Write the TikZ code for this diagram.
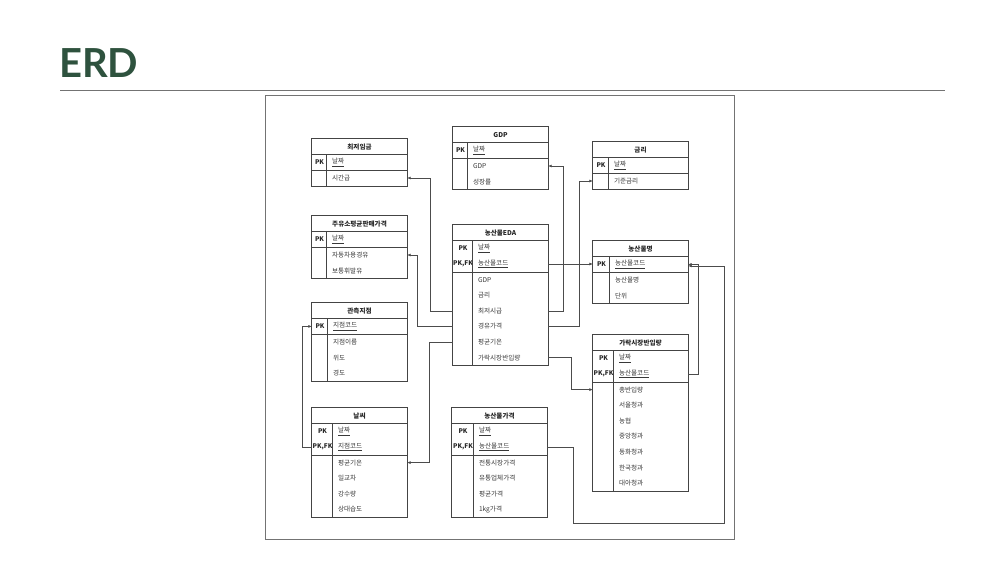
\documentclass[tikz,border=0pt]{standalone}
\usepackage{fontspec}
\setmainfont{Noto Sans CJK KR}
\newfontfamily\titlefont{Lato}
\usetikzlibrary{arrows.meta}
\definecolor{erdgreen}{HTML}{2E523E}
\definecolor{erdline}{HTML}{444444}

\begin{document}
\begin{tikzpicture}[x=1pt, y=-1pt,
    tblhead/.style={minimum width=95pt, minimum height=15.6pt, inner sep=0pt, font=\fontsize{6.6}{7}\selectfont\bfseries, text=black!85},
    attr/.style={minimum width=95pt, minimum height=15.6pt, inner sep=0pt, text width=95pt, align=left, font=\fontsize{6.6}{7}\selectfont, text=black!78, execute at begin node={\hspace*{#1}}},
    keytag/.style={inner sep=0pt, font=\fontsize{6.4}{7}\selectfont\bfseries, text=black!85},
    tblline/.style={draw=erdline, line width=0.7pt},
    rel/.style={draw=black!70, line width=0.6pt, -{Latex[length=3.5pt,width=3pt]}}]
   \useasboundingbox (0,0) rectangle (1000,563);

   % title and frame
   \node[anchor=base west, inner sep=0pt, font=\titlefont\bfseries\fontsize{40}{40}\selectfont, text=erdgreen] (title) at (59,77) {ERD};
   \draw[black!55, line width=0.9pt] (60,90) -- (945,90);
   \draw[black!55, line width=0.6pt] (265,95) rectangle (734,539);

   % 최저임금
   \node[tblhead] (wage) at (359.5,146.8) {최저임금};
   \node[keytag] (wage-k1) at (319.5,162.4) {PK};
   \node[attr=20pt] (wage-date) at (359.5,162.4) {\underline{날짜}};
   \node[attr=20pt] (wage-hour) at (359.5,178.0) {시간급};
   \draw[tblline] (wage.north west) rectangle (wage-hour.south east) (wage.south west) -- (wage.south east) (wage-date.south west) -- (wage-date.south east) ([xshift=15pt]wage.south west) -- ([xshift=15pt]wage-hour.south west);

   % 주유소평균판매가격
   \node[tblhead] (fuel) at (359.5,223.8) {주유소평균판매가격};
   \node[keytag] (fuel-k1) at (319.5,239.4) {PK};
   \node[attr=20pt] (fuel-date) at (359.5,239.4) {\underline{날짜}};
   \node[attr=20pt] (fuel-diesel) at (359.5,255.0) {자동차용경유};
   \node[attr=20pt] (fuel-gas) at (359.5,270.6) {보통휘발유};
   \draw[tblline] (fuel.north west) rectangle (fuel-gas.south east) (fuel.south west) -- (fuel.south east) (fuel-date.south west) -- (fuel-date.south east) ([xshift=15pt]fuel.south west) -- ([xshift=15pt]fuel-gas.south west);

   % GDP
   \node[tblhead] (gdp) at (500.5,134.8) {GDP};
   \node[keytag] (gdp-k1) at (460.5,150.4) {PK};
   \node[attr=20pt] (gdp-date) at (500.5,150.4) {\underline{날짜}};
   \node[attr=20pt] (gdp-gdp) at (500.5,166.0) {GDP};
   \node[attr=20pt] (gdp-growth) at (500.5,181.6) {성장률};
   \draw[tblline] (gdp.north west) rectangle (gdp-growth.south east) (gdp.south west) -- (gdp.south east) (gdp-date.south west) -- (gdp-date.south east) ([xshift=15pt]gdp.south west) -- ([xshift=15pt]gdp-growth.south west);

   % 금리
   \node[tblhead] (rate) at (640.5,149.8) {금리};
   \node[keytag] (rate-k1) at (601,165.4) {PK};
   \node[attr=21pt] (rate-date) at (640.5,165.4) {\underline{날짜}};
   \node[attr=21pt] (rate-base) at (640.5,181.0) {기준금리};
   \draw[tblline] (rate.north west) rectangle (rate-base.south east) (rate.south west) -- (rate.south east) (rate-date.south west) -- (rate-date.south east) ([xshift=16pt]rate.south west) -- ([xshift=16pt]rate-base.south west);

   % 농산물EDA
   \node[tblhead] (eda) at (500.5,232.8) {농산물EDA};
   \node[keytag] (eda-k1) at (463,248.4) {PK};
   \node[keytag] (eda-k2) at (463,264.0) {PK,FK};
   \node[attr=25pt] (eda-date) at (500.5,248.4) {\underline{날짜}};
   \node[attr=25pt] (eda-code) at (500.5,264.0) {\underline{농산물코드}};
   \node[attr=25pt] (eda-gdp) at (500.5,279.6) {GDP};
   \node[attr=25pt] (eda-rate) at (500.5,295.2) {금리};
   \node[attr=25pt] (eda-min) at (500.5,310.8) {최저시급};
   \node[attr=25pt] (eda-oil) at (500.5,326.4) {경유가격};
   \node[attr=25pt] (eda-temp) at (500.5,342.0) {평균기온};
   \node[attr=25pt] (eda-market) at (500.5,357.6) {가락시장반입량};
   \draw[tblline] (eda.north west) rectangle (eda-market.south east) (eda.south west) -- (eda.south east) (eda-code.south west) -- (eda-code.south east) ([xshift=20pt]eda.south west) -- ([xshift=20pt]eda-market.south west);

   % 농산물명
   \node[tblhead] (crop) at (640.5,248.8) {농산물명};
   \node[keytag] (crop-k1) at (601.5,264.4) {PK};
   \node[attr=22pt] (crop-code) at (640.5,264.4) {\underline{농산물코드}};
   \node[attr=22pt] (crop-name) at (640.5,280.0) {농산물명};
   \node[attr=22pt] (crop-unit) at (640.5,295.6) {단위};
   \draw[tblline] (crop.north west) rectangle (crop-unit.south east) (crop.south west) -- (crop.south east) (crop-code.south west) -- (crop-code.south east) ([xshift=17pt]crop.south west) -- ([xshift=17pt]crop-unit.south west);

   % 관측지점
   \node[tblhead] (stn) at (359.5,310.8) {관측지점};
   \node[keytag] (stn-k1) at (320,326.4) {PK};
   \node[attr=21pt] (stn-code) at (359.5,326.4) {\underline{지점코드}};
   \node[attr=21pt] (stn-name) at (359.5,342.0) {지점이름};
   \node[attr=21pt] (stn-lat) at (359.5,357.6) {위도};
   \node[attr=21pt] (stn-lon) at (359.5,373.2) {경도};
   \draw[tblline] (stn.north west) rectangle (stn-lon.south east) (stn.south west) -- (stn.south east) (stn-code.south west) -- (stn-code.south east) ([xshift=16pt]stn.south west) -- ([xshift=16pt]stn-lon.south west);

   % 날씨
   \node[tblhead] (wx) at (359.5,415.8) {날씨};
   \node[keytag] (wx-k1) at (322.5,431.4) {PK};
   \node[keytag] (wx-k2) at (322.5,447.0) {PK,FK};
   \node[attr=26pt] (wx-date) at (359.5,431.4) {\underline{날짜}};
   \node[attr=26pt] (wx-stn) at (359.5,447.0) {\underline{지점코드}};
   \node[attr=26pt] (wx-temp) at (359.5,462.6) {평균기온};
   \node[attr=26pt] (wx-range) at (359.5,478.2) {일교차};
   \node[attr=26pt] (wx-rain) at (359.5,493.8) {강수량};
   \node[attr=26pt] (wx-humid) at (359.5,509.4) {상대습도};
   \draw[tblline] (wx.north west) rectangle (wx-humid.south east) (wx.south west) -- (wx.south east) (wx-stn.south west) -- (wx-stn.south east) ([xshift=21pt]wx.south west) -- ([xshift=21pt]wx-humid.south west);

   % 농산물가격
   \node[tblhead] (price) at (499.5,415.8) {농산물가격};
   \node[keytag] (price-k1) at (463,431.4) {PK};
   \node[keytag] (price-k2) at (463,447.0) {PK,FK};
   \node[attr=27pt] (price-date) at (499.5,431.4) {\underline{날짜}};
   \node[attr=27pt] (price-code) at (499.5,447.0) {\underline{농산물코드}};
   \node[attr=27pt] (price-trad) at (499.5,462.6) {전통시장가격};
   \node[attr=27pt] (price-retail) at (499.5,478.2) {유통업체가격};
   \node[attr=27pt] (price-avg) at (499.5,493.8) {평균가격};
   \node[attr=27pt] (price-kg) at (499.5,509.4) {1kg가격};
   \draw[tblline] (price.north west) rectangle (price-kg.south east) (price.south west) -- (price.south east) (price-code.south west) -- (price-code.south east) ([xshift=22pt]price.south west) -- ([xshift=22pt]price-kg.south west);

   % 가락시장반입량
   \node[tblhead] (mkt) at (640.5,342.8) {가락시장반입량};
   \node[keytag] (mkt-k1) at (603.5,358.4) {PK};
   \node[keytag] (mkt-k2) at (603.5,374.0) {PK,FK};
   \node[attr=26pt] (mkt-date) at (640.5,358.4) {\underline{날짜}};
   \node[attr=26pt] (mkt-code) at (640.5,374.0) {\underline{농산물코드}};
   \node[attr=26pt] (mkt-total) at (640.5,389.6) {총반입량};
   \node[attr=26pt] (mkt-seoul) at (640.5,405.2) {서울청과};
   \node[attr=26pt] (mkt-nh) at (640.5,420.8) {농협};
   \node[attr=26pt] (mkt-jungang) at (640.5,436.4) {중앙청과};
   \node[attr=26pt] (mkt-donghwa) at (640.5,452.0) {동화청과};
   \node[attr=26pt] (mkt-hankook) at (640.5,467.6) {한국청과};
   \node[attr=26pt] (mkt-daea) at (640.5,483.2) {대아청과};
   \draw[tblline] (mkt.north west) rectangle (mkt-daea.south east) (mkt.south west) -- (mkt.south east) (mkt-code.south west) -- (mkt-code.south east) ([xshift=21pt]mkt.south west) -- ([xshift=21pt]mkt-daea.south west);

   % relations
   \draw[rel] (eda-min.west) -- ++(-23,0) |- (wage-hour.east);
   \draw[rel] (eda-oil.west) -- ++(-36,0) |- (fuel-diesel.east);
   \draw[rel] (eda-temp.west) -- ++(-24,0) |- (wx-temp.east);
   \draw[rel] (eda-min.east) -- ++(15,0) |- (gdp-gdp.east);
   \draw[rel] (eda-oil.east) -- ++(31,0) |- (rate-base.west);
   \draw[rel] (eda-code.east) -- (eda-code.east -| crop-code.west);
   \draw[rel] (eda-market.east) -- ++(23,0) |- (mkt-total.west);
   \draw[rel] (mkt-code.east) -- ++(10,0) |- (crop-code.east);
   \draw[rel] (price-code.east) -- ++(26,0) -- ++(0,76) -- ++(151,0) |- ([yshift=-1.5pt]crop-code.east);
   \draw[rel] (wx-stn.west) -- ++(-10,0) |- (stn-code.west);
 \end{tikzpicture}
\end{document}
